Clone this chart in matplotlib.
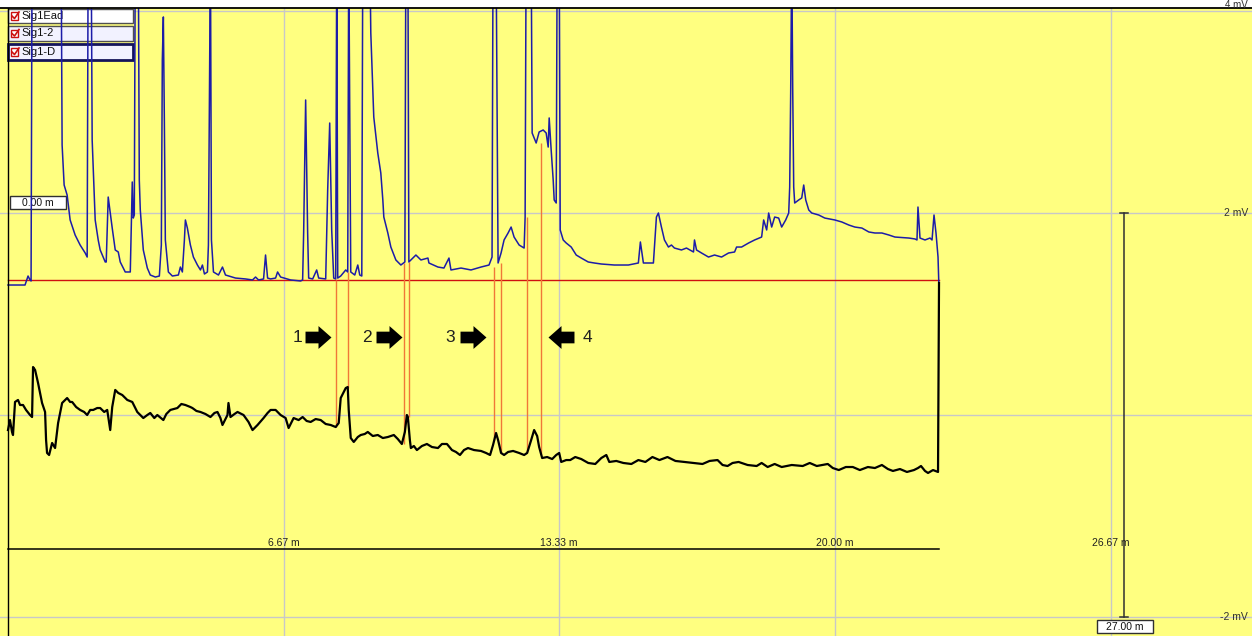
import matplotlib
matplotlib.use("Agg")
import matplotlib.pyplot as plt
from matplotlib.path import Path
from matplotlib.patches import Rectangle

plt.rcParams['font.family'] = ['Liberation Sans', 'DejaVu Sans']

# ---------------------------------------------------------------- data
# FID trace (retention time in min, signal in mV); 4.6 = off-scale peak
fid_t = [0, 0.412, 0.485, 0.533, 0.558, 0.582, 1.285, 1.309, 1.358, 1.430,
         1.503, 1.624, 1.745, 1.867, 1.915, 1.939, 2.012, 2.036, 2.109, 2.182,
         2.230, 2.352, 2.376, 2.424, 2.521, 2.594, 2.667, 2.715, 2.836, 2.958,
         3.006, 3.030, 3.055, 3.079, 3.152, 3.176, 3.200, 3.273, 3.370, 3.442,
         3.564, 3.661, 3.709, 3.733, 3.758, 3.782, 3.806, 3.879, 3.976, 4.121,
         4.170, 4.218, 4.267, 4.291, 4.339, 4.412, 4.485, 4.582, 4.655, 4.703,
         4.752, 4.824, 4.848, 4.897, 4.921, 4.970, 5.091, 5.188, 5.261, 5.503,
         5.745, 5.915, 5.988, 6.061, 6.182, 6.230, 6.279, 6.352, 6.473, 6.521,
         6.594, 6.836, 7.079, 7.127, 7.152, 7.200, 7.248, 7.273, 7.370, 7.467,
         7.515, 7.685, 7.733, 7.782, 7.830, 7.879, 7.927, 7.952, 7.976, 8.048,
         8.170, 8.218, 8.242, 8.291, 8.388, 8.461, 8.509, 8.558, 8.582, 8.752,
         8.776, 8.848, 8.945, 9.018, 9.067, 9.091, 9.188, 9.261, 9.382, 9.503,
         9.600, 9.624, 9.673, 9.697, 9.818, 9.867, 9.988, 10.158, 10.182, 10.400,
         10.545, 10.667, 10.715, 10.958, 11.200, 11.442, 11.636, 11.709, 11.733, 11.806,
         11.855, 11.927, 12.000, 12.097, 12.170, 12.242, 12.364, 12.485, 12.509, 12.533,
         12.655, 12.679, 12.776, 12.848, 12.945, 13.018, 13.067, 13.091, 13.139, 13.188,
         13.212, 13.261, 13.285, 13.333, 13.358, 13.430, 13.503, 13.624, 13.745, 13.867,
         14.036, 14.182, 14.352, 14.667, 15.006, 15.248, 15.297, 15.370, 15.612, 15.685,
         15.733, 15.806, 15.879, 15.976, 16.048, 16.121, 16.291, 16.412, 16.582, 16.606,
         16.655, 16.776, 16.945, 17.091, 17.261, 17.430, 17.576, 17.624, 17.745, 17.915,
         18.061, 18.230, 18.279, 18.352, 18.400, 18.473, 18.545, 18.642, 18.715, 18.812,
         18.885, 18.909, 18.933, 18.958, 18.982, 19.006, 19.030, 19.127, 19.200, 19.248,
         19.297, 19.370, 19.442, 19.612, 19.758, 20.000, 20.170, 20.339, 20.485, 20.655,
         20.824, 20.970, 21.139, 21.309, 21.455, 21.794, 21.939, 21.988, 22.012, 22.061,
         22.182, 22.303, 22.352, 22.400, 22.448, 22.497, 22.521]
fid_mv = [1.287, 1.287, 1.376, 1.337, 1.327, 4.6, 4.6, 2.673, 2.277, 2.178,
          1.931, 1.782, 1.683, 1.604, 1.564, 4.6, 4.6, 2.723, 1.931, 1.733,
          1.634, 1.515, 1.515, 2.158, 1.851, 1.634, 1.614, 1.515, 1.416, 1.416,
          2.307, 1.950, 1.980, 4.6, 4.6, 2.327, 2.030, 1.634, 1.455, 1.386,
          1.366, 1.376, 1.683, 3.515, 3.941, 2.921, 1.733, 1.416, 1.376, 1.386,
          1.465, 1.416, 1.733, 1.931, 1.851, 1.683, 1.564, 1.485, 1.436, 1.485,
          1.396, 1.416, 1.683, 4.6, 1.733, 1.416, 1.386, 1.465, 1.386, 1.356,
          1.347, 1.337, 1.366, 1.337, 1.347, 1.584, 1.356, 1.347, 1.356, 1.416,
          1.366, 1.337, 1.327, 1.337, 1.812, 3.119, 1.812, 1.356, 1.347, 1.436,
          1.356, 1.347, 2.228, 2.891, 1.832, 1.356, 1.347, 4.6, 1.356, 1.376,
          1.436, 1.416, 4.6, 1.416, 1.386, 1.485, 1.386, 1.376, 4.6, 4.6,
          3.782, 2.950, 2.594, 2.396, 2.129, 1.960, 1.802, 1.663, 1.535, 1.485,
          1.515, 4.6, 4.6, 1.515, 1.564, 1.584, 1.535, 1.554, 1.505, 1.465,
          1.455, 1.554, 1.436, 1.455, 1.436, 1.465, 1.485, 1.564, 4.6, 4.6,
          1.505, 1.604, 1.733, 1.802, 1.861, 1.762, 1.683, 1.653, 1.960, 4.6,
          4.6, 2.792, 2.693, 2.802, 2.822, 2.792, 2.653, 2.941, 2.624, 2.327,
          2.129, 2.099, 4.6, 4.6, 1.832, 1.733, 1.703, 1.663, 1.584, 1.554,
          1.515, 1.505, 1.495, 1.485, 1.485, 1.505, 1.713, 1.505, 1.505, 1.960,
          2.000, 1.861, 1.733, 1.663, 1.683, 1.653, 1.634, 1.653, 1.614, 1.733,
          1.634, 1.604, 1.564, 1.584, 1.564, 1.604, 1.614, 1.663, 1.663, 1.703,
          1.733, 1.762, 1.931, 1.832, 2.000, 1.861, 1.960, 1.950, 1.861, 1.931,
          2.000, 2.257, 3.188, 4.6, 3.218, 2.257, 2.099, 2.129, 2.149, 2.277,
          2.129, 2.030, 2.000, 1.980, 1.950, 1.931, 1.911, 1.881, 1.861, 1.851,
          1.812, 1.802, 1.802, 1.782, 1.762, 1.752, 1.743, 1.733, 2.059, 1.752,
          1.733, 1.752, 1.733, 1.980, 1.802, 1.564, 1.238]

# EAD trace (retention time in min, signal in mV)
ead_t = [0, 0.048, 0.097, 0.121, 0.170, 0.242, 0.291, 0.364, 0.436, 0.533,
         0.582, 0.606, 0.655, 0.727, 0.824, 0.897, 0.921, 0.945, 0.994, 1.067,
         1.139, 1.212, 1.309, 1.430, 1.503, 1.552, 1.648, 1.745, 1.842, 1.915,
         1.988, 2.061, 2.158, 2.230, 2.327, 2.400, 2.473, 2.521, 2.594, 2.667,
         2.764, 2.885, 3.006, 3.127, 3.273, 3.370, 3.442, 3.539, 3.612, 3.758,
         3.830, 3.927, 4.097, 4.194, 4.291, 4.412, 4.461, 4.558, 4.655, 4.776,
         4.897, 4.994, 5.067, 5.139, 5.188, 5.309, 5.333, 5.382, 5.479, 5.552,
         5.697, 5.818, 5.915, 6.036, 6.182, 6.279, 6.352, 6.473, 6.594, 6.715,
         6.788, 6.909, 7.030, 7.127, 7.224, 7.321, 7.442, 7.564, 7.685, 7.806,
         7.927, 8.000, 8.048, 8.170, 8.218, 8.242, 8.291, 8.364, 8.461, 8.533,
         8.630, 8.703, 8.824, 8.945, 9.067, 9.188, 9.333, 9.430, 9.527, 9.600,
         9.648, 9.673, 9.721, 9.745, 9.818, 9.891, 10.012, 10.133, 10.255, 10.400,
         10.497, 10.618, 10.739, 10.836, 10.933, 11.030, 11.127, 11.273, 11.442, 11.564,
         11.661, 11.733, 11.806, 11.855, 11.927, 12.000, 12.097, 12.218, 12.364, 12.485,
         12.558, 12.655, 12.727, 12.800, 12.848, 12.921, 13.042, 13.164, 13.261, 13.333,
         13.382, 13.503, 13.600, 13.721, 13.867, 14.036, 14.206, 14.352, 14.473, 14.545,
         14.715, 14.885, 15.079, 15.248, 15.418, 15.588, 15.758, 15.952, 16.145, 16.364,
         16.582, 16.800, 16.970, 17.164, 17.285, 17.406, 17.527, 17.673, 17.891, 18.109,
         18.230, 18.376, 18.545, 18.715, 18.958, 19.224, 19.394, 19.564, 19.830, 19.952,
         20.097, 20.267, 20.436, 20.606, 20.800, 20.970, 21.139, 21.285, 21.406, 21.576,
         21.745, 21.915, 22.012, 22.085, 22.182, 22.255, 22.376, 22.497, 22.521]
ead_mv = [-0.149, -0.050, -0.168, -0.198, 0.129, 0.149, 0.099, 0.099, 0.050, 0.0,
          -0.020, 0.475, 0.446, 0.317, 0.119, 0.030, -0.248, -0.376, -0.396, -0.277,
          -0.327, -0.079, 0.119, 0.168, 0.129, 0.129, 0.079, 0.050, 0.030, 0.0,
          0.050, 0.050, 0.069, 0.069, 0.030, 0.050, -0.149, 0.079, 0.248, 0.218,
          0.198, 0.149, 0.129, 0.030, -0.030, 0.0, 0.020, -0.030, 0.0, -0.050,
          0.010, 0.050, 0.069, 0.109, 0.099, 0.079, 0.069, 0.040, 0.030, 0.010,
          -0.020, 0.020, 0.030, -0.030, -0.099, 0.0, 0.119, -0.020, 0.010, 0.030,
          0.0, -0.069, -0.149, -0.099, -0.030, 0.020, 0.050, 0.050, 0.0, -0.030,
          -0.129, -0.030, -0.050, -0.020, -0.059, -0.069, -0.040, -0.050, -0.089, -0.099,
          -0.119, -0.079, 0.168, 0.267, 0.277, 0.050, -0.228, -0.267, -0.218, -0.198,
          -0.188, -0.168, -0.208, -0.198, -0.228, -0.218, -0.198, -0.238, -0.287, -0.168,
          0.0, -0.020, -0.248, -0.327, -0.307, -0.347, -0.307, -0.287, -0.317, -0.327,
          -0.287, -0.287, -0.347, -0.366, -0.396, -0.347, -0.327, -0.347, -0.356, -0.376,
          -0.396, -0.297, -0.178, -0.248, -0.376, -0.396, -0.366, -0.356, -0.376, -0.396,
          -0.376, -0.248, -0.149, -0.208, -0.317, -0.426, -0.416, -0.436, -0.396, -0.376,
          -0.465, -0.446, -0.446, -0.416, -0.436, -0.475, -0.485, -0.426, -0.396, -0.465,
          -0.455, -0.475, -0.485, -0.446, -0.465, -0.416, -0.446, -0.416, -0.455, -0.465,
          -0.475, -0.485, -0.455, -0.446, -0.495, -0.505, -0.475, -0.465, -0.495, -0.505,
          -0.475, -0.515, -0.485, -0.515, -0.495, -0.505, -0.475, -0.505, -0.485, -0.525,
          -0.545, -0.515, -0.515, -0.545, -0.515, -0.525, -0.495, -0.535, -0.554, -0.535,
          -0.564, -0.545, -0.525, -0.505, -0.554, -0.574, -0.545, -0.564, 1.307]

# EAD-active peaks: marker lines (time, top on FID, bottom on EAD)
mark_t = [7.927, 8.218, 9.576, 9.697, 11.758, 11.927, 12.558, 12.897]
mark_top = [1.337, 1.416, 1.505, 1.515, 1.465, 1.505, 1.960, 2.693]
mark_bottom = [-0.119, 0.267, -0.287, -0.020, -0.248, -0.376, -0.366, -0.396]

fid_level = 1.337            # FID threshold line (mV)
time_ticks = [6.67, 13.33, 20.00, 26.67]
time_labels = ['6.67 m', '13.33 m', '20.00 m', '26.67 m']
mv_ticks = [4, 2, 0, -2]
mv_labels = {4: '4 mV', 2: '2 mV', -2: '-2 mV'}
cursor_t = 27.00
legend_names = ['Sig1Ead', 'Sig1-2', 'Sig1-D']
peak_numbers = ['1', '2', '3', '4']

# ---------------------------------------------------------------- figure
W, H = 1252, 636
PX_MIN, PX_MV = 41.34, 101.0
fig = plt.figure(figsize=(W / 100, H / 100), dpi=100, facecolor='white')
ax = fig.add_axes([0, 0, 1, (H - 8) / H])
ax.set_xlim(-8 / PX_MIN, (W - 8) / PX_MIN)
ax.set_ylim((415 - H) / PX_MV, (415 - 8) / PX_MV)
ax.set_axis_off()
ax.add_patch(Rectangle((0, 0), 1, 1, transform=ax.transAxes,
                       facecolor='#ffff80', edgecolor='none', zorder=0))


def P(x, y):
    """pixel position -> figure fraction"""
    return (x / W, 1 - y / H)


# grid
for v in mv_ticks:
    ax.axhline(v, color='#c8c8c8', lw=1, zorder=1)
for t in time_ticks:
    ax.axvline(t, color='#c8c8c8', lw=1, zorder=1)

# frame lines
ax.axhline(ax.get_ylim()[1], color='black', lw=1.3, zorder=6, clip_on=False)
ax.axvline(0, color='black', lw=1, zorder=6)
t_end = fid_t[-1]
ax.plot([0, t_end], [-1.327, -1.327], color='black', lw=1.1, zorder=6)

# time labels
for t, lab in zip(time_ticks, time_labels):
    ax.text(t, -1.327 + 0.015, lab, ha='center', va='bottom', fontsize=7.5,
            color='#202020', zorder=7)

# mV labels on the right
x_right = (W - 4 - 8) / PX_MIN
for v, lab in mv_labels.items():
    if v == 4:
        ax.text(*P(W - 4, 0), lab, transform=fig.transFigure, ha='right',
                va='top', fontsize=7, color='#303030', zorder=7)
    else:
        ax.text(x_right, v, lab, ha='right', va='center', fontsize=7.5,
                color='#303030', zorder=7, clip_on=False)

# scale bar / cursor
ax.plot([cursor_t, cursor_t], [2, -2], color='#303030', lw=1.1, zorder=6)
for v in (2, -2):
    ax.plot([cursor_t - 0.1, cursor_t + 0.1], [v, v], color='#303030', lw=1.1, zorder=6)

# traces
ax.plot([0, t_end], [fid_level, fid_level], color='#d01010', lw=1.0, zorder=3)
ax.vlines(mark_t, mark_bottom, mark_top, color='#f07838', lw=1.0, zorder=3)
ax.plot(fid_t, fid_mv, color='#1c1ca8', lw=1.1, zorder=5)
ax.plot(ead_t, ead_mv, color='black', lw=1.6, zorder=5)


# boxes with text (pixel layout)
def text_box(x0, y0, x1, y1, label, face='white', edge='#303030', lw=1.0, z=4,
             ha='center', tx=None, fs=7.5):
    ax.add_patch(Rectangle(P(x0, y1), (x1 - x0) / W, (y1 - y0) / H,
                           transform=fig.transFigure, facecolor=face,
                           edgecolor=edge, lw=lw, zorder=z, clip_on=False))
    cx = (x0 + x1) / 2 if tx is None else tx
    ax.text(*P(cx, (y0 + y1) / 2), label, transform=fig.transFigure,
            ha=ha, va='center', fontsize=fs, color='#101010', zorder=z + 0.1)


text_box(10, 196, 66, 209, '0.00 m', z=4)
text_box(1097, 620, 1153, 633, '27.00 m', z=7)

# legend
legend_rows = [(9, 23, 'white', '#505050', 1.0),
               (26, 41, '#f2f2ff', '#505050', 1.0),
               (44, 60, '#f2f2ff', '#14145a', 2.0)]
for name, (y0, y1, face, edge, lw) in zip(legend_names, legend_rows):
    text_box(8, y0, 133, y1, name, face=face, edge=edge, lw=lw, z=4,
             ha='left', tx=21, fs=8)
    yc = (y0 + y1) / 2
    ax.add_patch(Rectangle(P(11, yc + 3.5), 7 / W, 7 / H, transform=fig.transFigure,
                           facecolor='white', edgecolor='#cc1010', lw=1.0,
                           zorder=4.2, clip_on=False))
    cx, cy = zip(P(12, yc), P(14.5, yc + 2.5), P(19, yc - 4))
    ax.plot(cx, cy, color='#cc1010', lw=1.2, transform=fig.transFigure,
            zorder=4.3, clip_on=False)

# numbered arrows
right_arrow = Path([(-1, -0.45), (0, -0.45), (0, -0.88), (1, 0), (0, 0.88),
                    (0, 0.45), (-1, 0.45), (-1, -0.45)],
                   [Path.MOVETO] + [Path.LINETO] * 6 + [Path.CLOSEPOLY])
left_arrow = Path([(1, -0.45), (0, -0.45), (0, -0.88), (-1, 0), (0, 0.88),
                   (0, 0.45), (1, 0.45), (1, -0.45)],
                  [Path.MOVETO] + [Path.LINETO] * 6 + [Path.CLOSEPOLY])
arrow_px = [318, 389, 473, 561]
number_px = [298, 367, 450, 587]
arrow_kind = [right_arrow, right_arrow, right_arrow, left_arrow]
for num, ax_px, nx_px, shape in zip(peak_numbers, arrow_px, number_px, arrow_kind):
    xa, ya = P(ax_px, 337)
    ax.plot([xa], [ya], marker=shape, markersize=18.7, color='black',
            markeredgewidth=0, linestyle='none', transform=fig.transFigure, zorder=8)
    ax.text(*P(nx_px, 337), num, transform=fig.transFigure, ha='center',
            va='center', fontsize=12.5, color='#202020', zorder=8)

fig.savefig('out.png', dpi=100, facecolor='white')
